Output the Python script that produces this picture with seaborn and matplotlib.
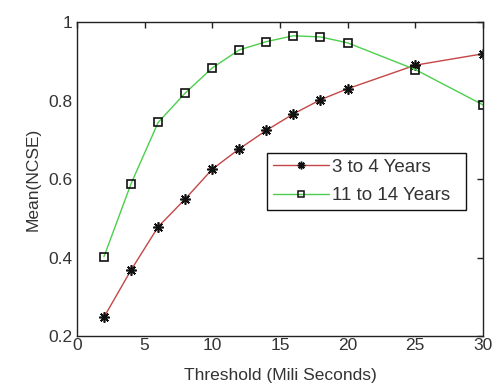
import matplotlib
matplotlib.use("Agg")
import matplotlib.pyplot as plt
import seaborn as sns
import pandas as pd
from matplotlib.lines import Line2D

threshold = [2, 4, 6, 8, 10, 12, 14, 16, 18, 20, 25, 30]
young = [0.248, 0.368, 0.478, 0.549, 0.625, 0.677, 0.724, 0.766, 0.802, 0.830, 0.890, 0.919]
older = [0.402, 0.588, 0.744, 0.819, 0.883, 0.929, 0.950, 0.965, 0.962, 0.947, 0.879, 0.789]
series_names = ["3 to 4 Years", "11 to 14 Years"]
x_ticks = [0, 5, 10, 15, 20, 25, 30]
x_tick_labels = ["0", "5", "10", "15", "20", "25", "30"]
y_ticks = [0.2, 0.4, 0.6, 0.8, 1.0]
y_tick_labels = ["0.2", "0.4", "0.6", "0.8", "1"]

sns.set_style("white")
plt.rcParams['font.family'] = ['Liberation Sans', 'DejaVu Sans']

fig = plt.figure(figsize=(4.93, 3.83), dpi=100)
ax = fig.add_axes([0.156, 0.1227, 0.8235, 0.8198])

star = (8, 2, 0)
colors = ["#c44646", "#4ccf4c"]
style = [
    dict(marker=star, markersize=7.5, markeredgecolor="#111111", markeredgewidth=1.2),
    dict(marker="s", markersize=5.8, markerfacecolor="none", markeredgecolor="#111111",
         markeredgewidth=1.2),
]
for vals, color, st in zip([young, older], colors, style):
    sns.lineplot(x=threshold, y=vals, color=color, linewidth=1.0, ax=ax, **st)

ax.set_xlim(0, 30)
ax.set_ylim(0.2, 1.0)
ax.set_xticks(x_ticks)
ax.set_xticklabels(x_tick_labels)
ax.set_yticks(y_ticks)
ax.set_yticklabels(y_tick_labels)
ax.tick_params(direction="in", length=4, width=1, top=True, right=True,
               labelsize=12.5, colors="#222222", labelcolor="#333333")
ax.tick_params(axis="x", pad=1.5)
ax.tick_params(axis="y", pad=3)
for s in ax.spines.values():
    s.set_visible(True)
    s.set_color("#222222")
    s.set_linewidth(1.0)
ax.set_xlabel("Threshold (Mili Seconds)", fontsize=12.5, color="#333333", labelpad=10.5)
ax.set_ylabel("Mean(NCSE)", fontsize=12.5, color="#333333", labelpad=6)

leg_style = [
    dict(marker=star, markersize=5.5, markeredgecolor="#111111", markeredgewidth=1.1),
    dict(marker="s", markersize=4.0, markerfacecolor="none", markeredgecolor="#111111",
         markeredgewidth=1.1),
]
handles = [Line2D([], [], color=c, linewidth=1.0, **st) for c, st in zip(colors, leg_style)]
leg = fig.legend(handles, series_names, loc="upper left",
                 bbox_to_anchor=(267 / 493, 1 - 212 / 383, 199 / 493, 59 / 383),
                 mode="expand", fancybox=False,
                 edgecolor="#111111", framealpha=1, fontsize=13.5,
                 handlelength=3.0, handletextpad=0.15, borderpad=0.3,
                 labelspacing=0.6, borderaxespad=0)
leg.get_frame().set_linewidth(1.0)
for t in leg.get_texts():
    t.set_color("#333333")

fig.savefig("out.png", dpi=100)
